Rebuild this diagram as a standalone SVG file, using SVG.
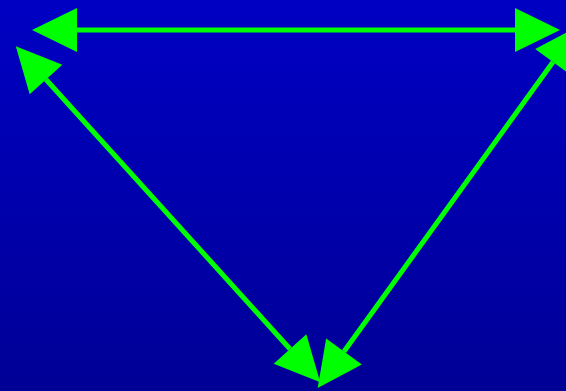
<svg xmlns="http://www.w3.org/2000/svg" width="566" height="391" viewBox="0 0 566 391">
<defs>
<linearGradient id="bg" x1="0" y1="0" x2="0" y2="1">
<stop offset="0" stop-color="#0000c4"/>
<stop offset="1" stop-color="#000096"/>
</linearGradient>
<marker id="head" markerUnits="userSpaceOnUse" markerWidth="45" markerHeight="44" refX="0" refY="22" orient="auto-start-reverse" viewBox="0 0 45 44" overflow="visible">
<path d="M0,0 L45,22 L0,44 Z" fill="#00ff00"/>
</marker>
<style>
.conn{stroke:#00ff00;stroke-width:5;fill:none;marker-start:url(#head);marker-end:url(#head)}
</style>
</defs>
<rect width="566" height="391" fill="url(#bg)"/>
<g id="connectors">
<line class="conn" x1="77" y1="30" x2="515" y2="30"/>
<line class="conn" x1="46" y1="79.5" x2="290" y2="349"/>
<line class="conn" x1="344" y1="351.5" x2="553" y2="62"/>
</g>
</svg>
